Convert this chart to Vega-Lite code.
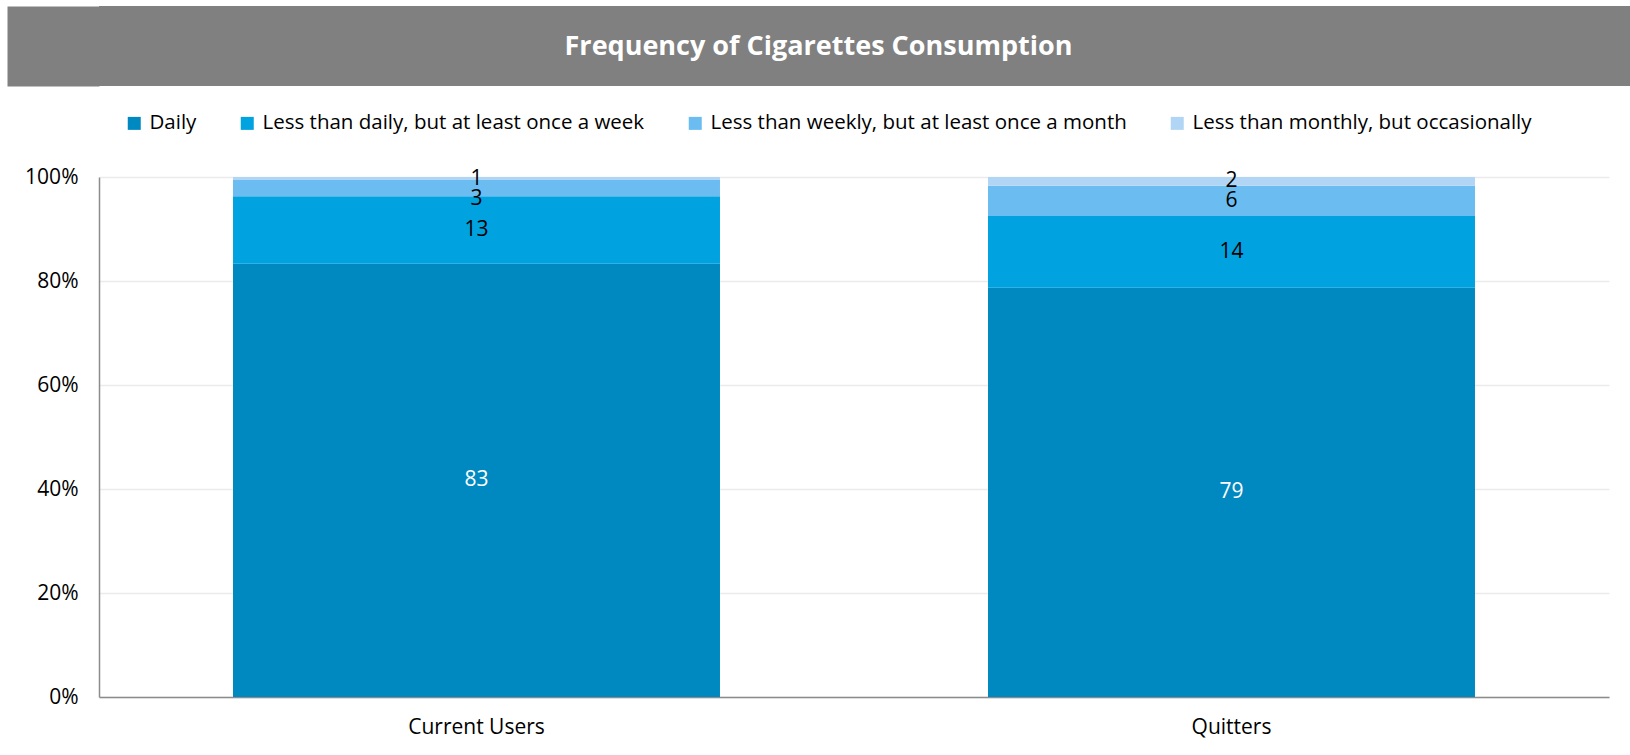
{
  "$schema": "https://vega.github.io/schema/vega-lite/v6.json",
  "background": "white",
  "padding": {"left": 7, "top": 6, "right": 0, "bottom": 10},
  "config": {"view": {"stroke": null}, "font": "Open Sans"},
  "spacing": 80,
  "vconcat": [
    {
      "width": 1531,
      "height": 80,
      "view": {"fill": "#808080", "stroke": null},
      "data": {"values": [{"t": "Frequency of Cigarettes Consumption"}]},
      "mark": {"type": "text", "color": "white", "fontSize": 27, "fontWeight": "bold", "font": "Open Sans", "dx": -46, "dy": 1},
      "encoding": {
        "text": {"field": "t", "type": "nominal"},
        "y": {
          "field": "t",
          "type": "nominal",
          "scale": {"paddingInner": 0, "paddingOuter": 0},
          "axis": {"title": null, "labels": false, "ticks": false, "grid": false, "domain": true, "domainColor": "#808080", "domainWidth": 92, "domainCap": "butt", "offset": 46, "minExtent": 0}
        }
      }
    },
    {
      "hconcat": [
        {
          "width": 1510,
          "height": 520,
          "data": {
            "values": [
              {"group": "Current Users", "frequency": "Daily", "rank": 1, "value": 83.3},
              {"group": "Current Users", "frequency": "Less than daily, but at least once a week", "rank": 2, "value": 13.0},
              {"group": "Current Users", "frequency": "Less than weekly, but at least once a month", "rank": 3, "value": 3.1},
              {"group": "Current Users", "frequency": "Less than monthly, but occasionally", "rank": 4, "value": 0.6},
              {"group": "Quitters", "frequency": "Daily", "rank": 1, "value": 78.7},
              {"group": "Quitters", "frequency": "Less than daily, but at least once a week", "rank": 2, "value": 13.8},
              {"group": "Quitters", "frequency": "Less than weekly, but at least once a month", "rank": 3, "value": 5.8},
              {"group": "Quitters", "frequency": "Less than monthly, but occasionally", "rank": 4, "value": 1.7}
            ]
          },
          "encoding": {
            "x": {
              "field": "group",
              "type": "nominal",
              "sort": ["Current Users", "Quitters"],
              "scale": {"paddingInner": 0.355, "paddingOuter": 0.1775},
              "axis": {"title": null, "labelAngle": 0, "ticks": false, "domainColor": "#8c8c8c", "domainWidth": 1.5, "labelFontSize": 21, "labelFont": "Open Sans", "labelColor": "#000000", "labelPadding": 19}
            }
          },
          "layer": [
            {
              "mark": {"type": "bar"},
              "encoding": {
                "y": {
                  "field": "value",
                  "type": "quantitative",
                  "stack": "zero",
                  "scale": {"domain": [0, 100]},
                  "axis": {"title": null, "values": [0, 20, 40, 60, 80, 100], "labelExpr": "datum.value + '%'", "labelFontSize": 21, "labelFont": "Open Sans", "labelColor": "#000000", "labelPadding": 21, "ticks": false, "domainColor": "#8c8c8c", "domainWidth": 1.5, "gridColor": "#ebebeb", "gridWidth": 1.5, "minExtent": 92, "maxExtent": 92}
                },
                "order": {"field": "rank", "type": "quantitative"},
                "color": {
                  "field": "frequency",
                  "type": "nominal",
                  "sort": ["Daily", "Less than daily, but at least once a week", "Less than weekly, but at least once a month", "Less than monthly, but occasionally"],
                  "scale": {
                    "domain": ["Daily", "Less than daily, but at least once a week", "Less than weekly, but at least once a month", "Less than monthly, but occasionally"],
                    "range": ["#0088c0", "#00a2e0", "#6bbcf0", "#b1d6f5"]
                  },
                  "legend": {
                    "orient": "none",
                    "legendX": 25,
                    "legendY": 107,
                    "direction": "horizontal",
                    "title": null,
                    "symbolType": "square",
                    "symbolSize": 169,
                    "symbolStrokeWidth": 0,
                    "labelFontSize": 20.5,
                    "labelFont": "Open Sans",
                    "labelColor": "#000000",
                    "labelLimit": 700,
                    "labelOffset": 5,
                    "columnPadding": 40
                  }
                }
              }
            },
            {
              "transform": [
                {"stack": "value", "groupby": ["group"], "sort": [{"field": "rank", "order": "ascending"}], "as": ["v0", "v1"]},
                {"calculate": "(datum.v0 + datum.v1) / 2", "as": "mid"},
                {"filter": "!(datum.group === 'Current Users' && datum.rank === 3)"}
              ],
              "mark": {"type": "text", "fontSize": 21, "font": "Open Sans", "baseline": "middle"},
              "encoding": {
                "y": {"field": "mid", "type": "quantitative", "title": null},
                "text": {"field": "value", "type": "quantitative", "format": ".0f"},
                "color": {"condition": {"test": "datum.frequency === 'Daily'", "value": "#ffffff"}, "value": "#000000"}
              }
            },
            {
              "transform": [
                {"stack": "value", "groupby": ["group"], "sort": [{"field": "rank", "order": "ascending"}], "as": ["v0", "v1"]},
                {"calculate": "(datum.v0 + datum.v1) / 2", "as": "mid"},
                {"filter": "datum.group === 'Current Users' && datum.rank === 3"}
              ],
              "mark": {"type": "text", "fontSize": 21, "font": "Open Sans", "baseline": "middle", "dy": 11, "color": "#000000"},
              "encoding": {
                "y": {"field": "mid", "type": "quantitative", "title": null},
                "text": {"field": "value", "type": "quantitative", "format": ".0f"}
              }
            }
          ]
        }
      ]
    }
  ]
}
